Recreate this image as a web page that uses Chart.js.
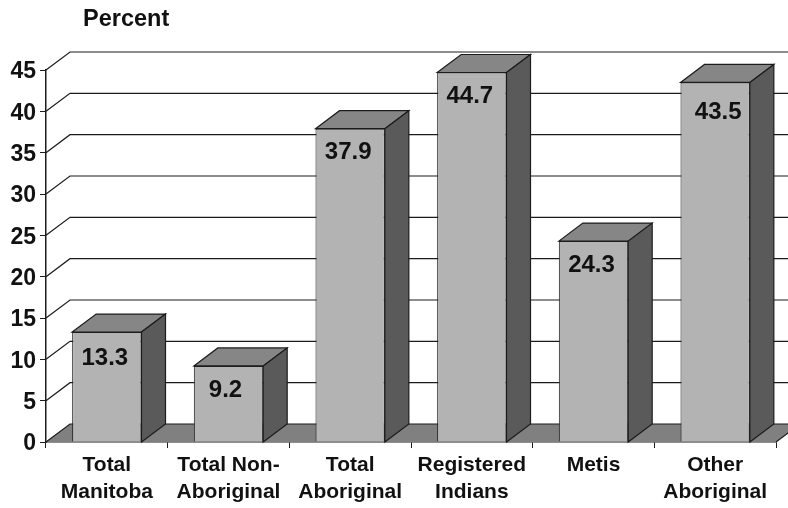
<!DOCTYPE html>
<html>
<head>
<meta charset="utf-8">
<title>Percent</title>
<script src="https://cdn.jsdelivr.net/npm/chart.js@4"></script>
<style>
  html, body { margin: 0; padding: 0; background: #fff; }
  canvas { display: block; }
</style>
</head>
<body>
<canvas id="chart" width="788" height="508"></canvas>
<script>
const categories = [
  ["Total", "Manitoba"],
  ["Total Non-", "Aboriginal"],
  ["Total", "Aboriginal"],
  ["Registered", "Indians"],
  ["Metis", ""],
  ["Other", "Aboriginal"]
];
const percents = [13.3, 9.2, 37.9, 44.7, 24.3, 43.5];
const yTicks = [0, 5, 10, 15, 20, 25, 30, 35, 40, 45];

const FONT = '"Liberation Sans", Arial, sans-serif';
const DEPTH_X = 24;
const DEPTH_Y = 18;
const LINE = '#1c1c1c';
// hand placed labels in the original, not quite centred on their bars
const labelNudge = [[-2, 26], [-3, 24], [-2, 24], [-2, 24], [-2, 24], [3, 30]];

// the fake 3d: back wall, floor, bar sides and tops, all hung off the real scales
const depthPlugin = {
  id: 'depth',
  beforeDatasetsDraw(chart) {
    const { ctx, scales: { x, y }, chartArea: area, width } = chart;
    ctx.save();
    ctx.lineWidth = 1.2;
    ctx.strokeStyle = LINE;

    const floor = y.getPixelForValue(0);
    ctx.fillStyle = '#808080';
    ctx.beginPath();
    ctx.moveTo(area.left, floor);
    ctx.lineTo(area.left + DEPTH_X, floor - DEPTH_Y);
    ctx.lineTo(area.right + DEPTH_X, floor - DEPTH_Y);
    ctx.lineTo(area.right, floor);
    ctx.closePath();
    ctx.fill();

    yTicks.forEach(v => {
      const py = y.getPixelForValue(v);
      ctx.beginPath();
      ctx.moveTo(area.left, py);
      ctx.lineTo(area.left + DEPTH_X, py - DEPTH_Y);
      ctx.lineTo(width, py - DEPTH_Y);
      ctx.stroke();
    });

    ctx.beginPath();
    ctx.moveTo(area.right, floor);
    ctx.lineTo(area.right + DEPTH_X, floor - DEPTH_Y);
    ctx.stroke();

    chart.getDatasetMeta(0).data.forEach(bar => {
      const half = bar.width / 2;
      const l = bar.x - half, r = bar.x + half, t = bar.y;

      ctx.fillStyle = '#868686';
      ctx.beginPath();
      ctx.moveTo(l, t);
      ctx.lineTo(l + DEPTH_X, t - DEPTH_Y);
      ctx.lineTo(r + DEPTH_X, t - DEPTH_Y);
      ctx.lineTo(r, t);
      ctx.closePath();
      ctx.fill();
      ctx.stroke();

      ctx.fillStyle = '#5a5a5a';
      ctx.beginPath();
      ctx.moveTo(r, t);
      ctx.lineTo(r + DEPTH_X, t - DEPTH_Y);
      ctx.lineTo(r + DEPTH_X, floor - DEPTH_Y);
      ctx.lineTo(r, floor);
      ctx.closePath();
      ctx.fill();
      ctx.stroke();
    });
    ctx.restore();
  },
  afterDatasetsDraw(chart) {
    const { ctx } = chart;
    ctx.save();
    ctx.fillStyle = '#111';
    ctx.textAlign = 'center';
    ctx.textBaseline = 'middle';
    ctx.font = 'bold 24px ' + FONT;
    chart.getDatasetMeta(0).data.forEach((bar, i) => {
      ctx.fillText(percents[i].toFixed(1), bar.x + labelNudge[i][0], bar.y + labelNudge[i][1]);
    });
    ctx.textAlign = 'left';
    ctx.textBaseline = 'alphabetic';
    ctx.font = 'bold 23.5px ' + FONT;
    ctx.fillText('Percent', 83, 26);
    ctx.restore();
  }
};

new Chart(document.getElementById('chart'), {
  type: 'bar',
  data: {
    labels: categories,
    datasets: [{
      data: percents,
      backgroundColor: '#b3b3b3',
      borderColor: LINE,
      borderWidth: 1,
      categoryPercentage: 1,
      barPercentage: 0.57
    }]
  },
  options: {
    responsive: false,
    animation: false,
    layout: { padding: { top: 70, right: 12, left: 0, bottom: 0 } },
    plugins: { legend: { display: false }, tooltip: { enabled: false }, title: { display: false } },
    scales: {
      x: {
        afterFit(scale) { scale.height = 66; },
        grid: { drawOnChartArea: false, color: LINE, tickLength: 6, lineWidth: 1 },
        border: { color: LINE, width: 1.5 },
        ticks: {
          color: '#111',
          maxRotation: 0,
          autoSkip: false,
          padding: 4,
          font: { family: FONT, size: 21, weight: 'bold', lineHeight: 1.286 }
        }
      },
      y: {
        min: 0,
        max: 45,
        afterFit(scale) { scale.width = 46; },
        grid: { drawOnChartArea: false, color: LINE, tickLength: 6, lineWidth: 1 },
        border: { color: LINE, width: 1.5 },
        ticks: {
          color: '#111',
          stepSize: 5,
          padding: 4,
          labelOffset: 2,
          font: { family: FONT, size: 23, weight: 'bold' }
        }
      }
    }
  },
  plugins: [depthPlugin]
});
</script>
</body>
</html>
